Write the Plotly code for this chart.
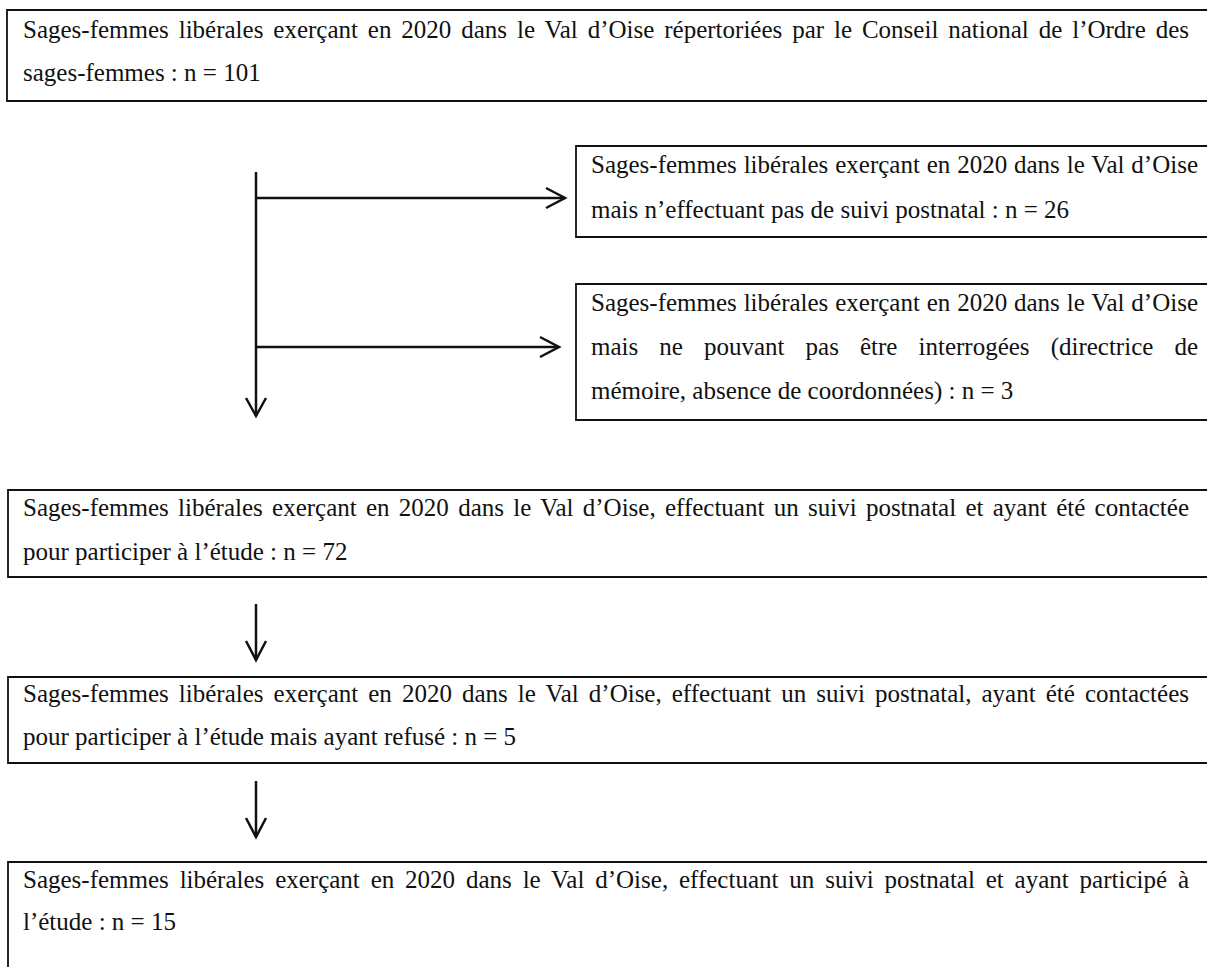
import json
import plotly.graph_objects as go

# ---------------- data ----------------
box_lines = [
    ["Sages-femmes libérales exerçant en 2020 dans le Val d’Oise répertoriées par le Conseil national de l’Ordre des",
     "sages-femmes"],
    ["Sages-femmes libérales exerçant en 2020 dans le Val d’Oise",
     "mais n’effectuant pas de suivi postnatal"],
    ["Sages-femmes libérales exerçant en 2020 dans le Val d’Oise",
     "mais ne pouvant pas être interrogées (directrice de",
     "mémoire, absence de coordonnées)"],
    ["Sages-femmes libérales exerçant en 2020 dans le Val d’Oise, effectuant un suivi postnatal et ayant été contactée",
     "pour participer à l’étude"],
    ["Sages-femmes libérales exerçant en 2020 dans le Val d’Oise, effectuant un suivi postnatal, ayant été contactées",
     "pour participer à l’étude mais ayant refusé"],
    ["Sages-femmes libérales exerçant en 2020 dans le Val d’Oise, effectuant un suivi postnatal et ayant participé à",
     "l’étude"],
]
counts = [101, 26, 3, 72, 5, 15]

# ---------------- layout geometry (pixels) ----------------
W, H = 1207, 967
# x0, y0, y1, text_x, line centers, justified right edge
geom = [
    (7, 10, 101, 22, [29, 72], 1188),
    (576, 146, 237, 590, [164, 209], 1197),
    (576, 284, 420, 590, [302, 347, 391], 1197),
    (8, 490, 577, 22, [507, 551], 1188),
    (8, 677, 763, 22, [693, 736], 1188),
    (8, 862, 1010, 22, [879, 921], 1188),
]
FONT = dict(family="Liberation Serif", size=25, color="#111111")

fig = go.Figure()
fig.add_trace(go.Scatter(x=[0, W], y=[0, H], mode="markers",
                         marker=dict(opacity=0), hoverinfo="skip", showlegend=False))

shapes = []
annotations = []
justify = {}
for lines, n, (x0, y0, y1, tx, ly, rx) in zip(box_lines, counts, geom):
    shapes.append(dict(type="rect", xref="x", yref="y", x0=x0, x1=W + 30, y0=y0, y1=y1,
                       line=dict(color="#111111", width=1.8), fillcolor="rgba(0,0,0,0)"))
    full = list(lines[:-1]) + [f"{lines[-1]} : n = {n}"]
    for i, (txt, yy) in enumerate(zip(full, ly)):
        annotations.append(dict(x=tx, y=yy, xref="x", yref="y", text=txt, showarrow=False,
                                xanchor="left", yanchor="middle", align="left", font=FONT,
                                borderpad=0))
        if i < len(full) - 1:
            justify[txt] = rx - tx

ARW = dict(color="#111111", width=2.5)
# main vertical arrow with two side branches
vx = 256
shapes.append(dict(type="line", x0=vx, x1=vx, y0=172, y1=416, line=ARW))
shapes.append(dict(type="path", path=f"M {vx-10},398 L {vx},416 L {vx+10},398", line=ARW))
for ay, tip in [(198, 565), (347, 559)]:
    shapes.append(dict(type="line", x0=vx, x1=tip, y0=ay, y1=ay, line=ARW))
    shapes.append(dict(type="path", path=f"M {tip-19},{ay-10} L {tip},{ay} L {tip-19},{ay+10}", line=ARW))
# short down arrows
for ya, yb in [(604, 660), (781, 837)]:
    shapes.append(dict(type="line", x0=vx, x1=vx, y0=ya, y1=yb, line=ARW))
    shapes.append(dict(type="path", path=f"M {vx-10},{yb-19} L {vx},{yb} L {vx+10},{yb-19}", line=ARW))

fig.update_layout(
    width=W, height=H, margin=dict(l=0, r=0, t=0, b=0),
    paper_bgcolor="white", plot_bgcolor="white",
    font=dict(family="Liberation Serif"),
    xaxis=dict(range=[0, W], visible=False, fixedrange=True),
    yaxis=dict(range=[H, 0], visible=False, fixedrange=True),
    shapes=shapes, annotations=annotations, showlegend=False,
)

post = """
document.body.style.margin = '0';
document.body.style.overflow = 'hidden';
var gd = document.getElementById('{plot_id}');
var JUST = __JUST__;
function justifyText(){
  var ts = gd.querySelectorAll('text.annotation-text');
  for (var i = 0; i < ts.length; i++) {
    var t = ts[i];
    var s = t.textContent;
    if (Object.prototype.hasOwnProperty.call(JUST, s)) {
      t.style.wordSpacing = '0px';
      var w = t.getComputedTextLength();
      var n = (s.match(/ /g) || []).length;
      if (n > 0) { t.style.wordSpacing = ((JUST[s] - w) / n) + 'px'; }
    }
  }
}
justifyText();
gd.on('plotly_afterplot', justifyText);
""".replace("__JUST__", json.dumps(justify, ensure_ascii=False))

fig.write_html("out.html", post_script=post, config={"displayModeBar": False, "staticPlot": True})
